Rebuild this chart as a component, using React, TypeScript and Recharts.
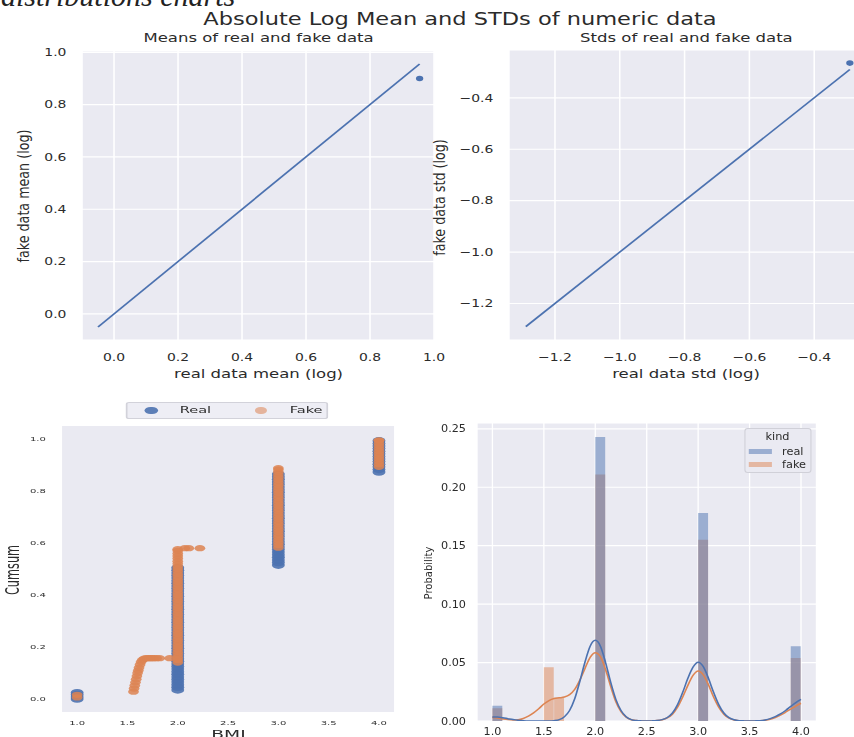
import React from 'react'
import {
  Bar,
  CartesianGrid,
  ComposedChart,
  Legend,
  Line,
  Scatter,
  ScatterChart,
  XAxis,
  YAxis,
} from 'recharts'

const BG = '#eaeaf2'
const BLUE = '#4c72b0'
const ORANGE = '#dd8452'
const INK = '#2b2b2b'
const SANS = '"DejaVu Sans", Verdana, sans-serif'

// each pasted figure in the screenshot is stretched horizontally by its own factor
const TOP_SX = 1.3
const CUM_SX = 1.7
const HIST_SX = 1.1

// ---- top figure: absolute log mean / std ----
const meanTicks = [0, 0.2, 0.4, 0.6, 0.8, 1.0]
const meanLineEnds = [-0.05, 0.955]
const meanPointsX = [0.955]
const meanPointsY = [0.9]

const stdTicks = [-1.2, -1.0, -0.8, -0.6, -0.4]
const stdLineEnds = [-1.29, -0.29]
const stdPointsX = [-0.29]
const stdPointsY = [-0.265]

// ---- bottom left: cumsum per BMI ----
const bmiTicks = [1.0, 1.5, 2.0, 2.5, 3.0, 3.5, 4.0]
const cumsumTicks = [0, 0.2, 0.4, 0.6, 0.8, 1.0]
const cumOrder = ['Real', 'Fake']

const realAt1 = [0.0, 0.008, 0.016, 0.024]
const realAt2 = [
  0.035, 0.045, 0.055, 0.065, 0.075, 0.085, 0.095, 0.105, 0.115, 0.125, 0.135, 0.145, 0.155,
  0.165, 0.175, 0.185, 0.195, 0.205, 0.215, 0.225, 0.235, 0.245, 0.255, 0.265, 0.275, 0.285,
  0.295, 0.305, 0.315, 0.325, 0.335, 0.345, 0.355, 0.365, 0.375, 0.385, 0.395, 0.405, 0.415,
  0.425, 0.435, 0.445, 0.455, 0.465, 0.475, 0.485, 0.495, 0.505,
]
const realAt3 = [
  0.515, 0.525, 0.535, 0.545, 0.555, 0.565, 0.575, 0.585, 0.595, 0.605, 0.615, 0.625, 0.635,
  0.645, 0.655, 0.665, 0.675, 0.685, 0.695, 0.705, 0.715, 0.725, 0.735, 0.745, 0.755, 0.765,
  0.775, 0.785, 0.795, 0.805, 0.815, 0.825, 0.835, 0.845, 0.855, 0.865,
]
const realAt4 = [
  0.873, 0.883, 0.893, 0.903, 0.913, 0.923, 0.933, 0.943, 0.953, 0.963, 0.973, 0.983, 0.993,
]

const fakeAt1 = [0.006, 0.016]
const fakeCurveX = [
  1.56, 1.566, 1.573, 1.58, 1.587, 1.594, 1.601, 1.608, 1.615, 1.625, 1.635, 1.648, 1.665,
  1.685, 1.705, 1.725, 1.745, 1.765, 1.79, 1.82, 1.92,
]
const fakeCurveY = [
  0.028, 0.04, 0.052, 0.064, 0.076, 0.088, 0.1, 0.11, 0.12, 0.132, 0.142, 0.15, 0.155, 0.157,
  0.157, 0.157, 0.157, 0.157, 0.157, 0.157, 0.157,
]
const fakeAt2 = [
  0.14, 0.15, 0.16, 0.17, 0.18, 0.19, 0.2, 0.21, 0.22, 0.23, 0.24, 0.25, 0.26, 0.27, 0.28, 0.29,
  0.3, 0.31, 0.32, 0.33, 0.34, 0.35, 0.36, 0.37, 0.38, 0.39, 0.4, 0.41, 0.42, 0.43, 0.44, 0.45,
  0.46, 0.47, 0.48, 0.49, 0.5, 0.51, 0.52, 0.53, 0.54, 0.55, 0.56, 0.57, 0.576,
]
const fakeSideX = [2.07, 2.11, 2.22]
const fakeSideY = [0.58, 0.58, 0.58]
const fakeAt3 = [
  0.582, 0.592, 0.602, 0.612, 0.622, 0.632, 0.642, 0.652, 0.662, 0.672, 0.682, 0.692, 0.702,
  0.712, 0.722, 0.732, 0.742, 0.752, 0.762, 0.772, 0.782, 0.792, 0.802, 0.812, 0.822, 0.832,
  0.842, 0.852, 0.862, 0.872, 0.882, 0.888,
]
const fakeAt4 = [0.893, 0.903, 0.913, 0.923, 0.933, 0.943, 0.953, 0.963, 0.973, 0.983, 0.993, 0.995]

// ---- bottom right: histogram + kde of BMI ----
const probTicks = [0, 0.05, 0.1, 0.15, 0.2, 0.25]
const binLow = [
  1.0, 1.1, 1.2, 1.3, 1.4, 1.5, 1.6, 1.7, 1.8, 1.9, 2.0, 2.1, 2.2, 2.3, 2.4, 2.5, 2.6, 2.7, 2.8,
  2.9, 3.0, 3.1, 3.2, 3.3, 3.4, 3.5, 3.6, 3.7, 3.8, 3.9,
]
const realProb = [
  0.013, 0, 0, 0, 0, 0, 0, 0, 0, 0, 0.243, 0, 0, 0, 0, 0, 0, 0, 0, 0, 0.178, 0, 0, 0, 0, 0, 0,
  0, 0, 0.064,
]
const fakeProb = [
  0.011, 0, 0, 0, 0, 0.046, 0.02, 0, 0, 0, 0.211, 0, 0, 0, 0, 0, 0, 0, 0, 0, 0.155, 0, 0, 0, 0,
  0, 0, 0, 0, 0.054,
]
const kdeX = [
  1.0, 1.05, 1.1, 1.15, 1.2, 1.25, 1.3, 1.35, 1.4, 1.45, 1.5, 1.55, 1.6, 1.65, 1.7, 1.75, 1.8,
  1.85, 1.9, 1.95, 2.0, 2.05, 2.1, 2.15, 2.2, 2.25, 2.3, 2.35, 2.4, 2.45, 2.5, 2.55, 2.6, 2.65,
  2.7, 2.75, 2.8, 2.85, 2.9, 2.95, 3.0, 3.05, 3.1, 3.15, 3.2, 3.25, 3.3, 3.35, 3.4, 3.45, 3.5,
  3.55, 3.6, 3.65, 3.7, 3.75, 3.8, 3.85, 3.9, 3.95, 4.0,
]
const realKde = [
  0.0035, 0.0035, 0.0028, 0.002, 0.0012, 0.0006, 0.0002, 0, 0, 0, 0, 0, 0.0003, 0.0012, 0.0037,
  0.009, 0.019, 0.034, 0.0505, 0.064, 0.069, 0.064, 0.05, 0.033, 0.0185, 0.009, 0.0037, 0.0012,
  0.0004, 0.0001, 0, 0.0001, 0.0004, 0.0012, 0.003, 0.0068, 0.014, 0.0245, 0.0365, 0.046, 0.0503,
  0.0465, 0.0365, 0.0245, 0.014, 0.0068, 0.0028, 0.001, 0.0003, 0.0001, 0, 0.0001, 0.0003,
  0.0009, 0.002, 0.0037, 0.006, 0.009, 0.0125, 0.0158, 0.0185,
]
const fakeKde = [
  0.003, 0.0025, 0.0018, 0.0012, 0.0009, 0.0011, 0.0022, 0.0042, 0.007, 0.0105, 0.0145, 0.0175,
  0.0192, 0.0198, 0.0205, 0.0225, 0.027, 0.035, 0.045, 0.0545, 0.0585, 0.055, 0.044, 0.0295,
  0.0165, 0.008, 0.0033, 0.0011, 0.0004, 0.0001, 0, 0.0001, 0.0004, 0.0011, 0.0026, 0.0058,
  0.0118, 0.0205, 0.0305, 0.039, 0.0428, 0.0395, 0.031, 0.0205, 0.0118, 0.0058, 0.0024, 0.0008,
  0.0002, 0, 0, 0, 0.0002, 0.0006, 0.0015, 0.003, 0.005, 0.0075, 0.0102, 0.0128, 0.0152,
]
const kindOrder = ['real', 'fake']

const fmt1 = (v: number) => v.toFixed(1).replace('-', '\u2212')
const fmt2 = (v: number) => v.toFixed(2)

type Pt = { x: number; y: number }
const column = (x: number, ys: number[]): Pt[] => ys.map((y) => ({ x, y }))
const pairs = (xs: number[], ys: number[]): Pt[] => xs.map((x, i) => ({ x, y: ys[i] }))

const meanLine = pairs(meanLineEnds, meanLineEnds)
const meanPoints = pairs(meanPointsX, meanPointsY)
const stdLine = pairs(stdLineEnds, stdLineEnds)
const stdPoints = pairs(stdPointsX, stdPointsY)

const realCum = [
  ...column(1, realAt1),
  ...column(2, realAt2),
  ...column(3, realAt3),
  ...column(4, realAt4),
]
const fakeCum = [
  ...column(1, fakeAt1),
  ...pairs(fakeCurveX, fakeCurveY),
  ...column(2, fakeAt2),
  ...pairs(fakeSideX, fakeSideY),
  ...column(3, fakeAt3),
  ...column(4, fakeAt4),
]

const binRows = binLow.map((bin, i) => ({ bin, real: realProb[i], fake: fakeProb[i] }))
const kdeRows = kdeX.map((x, i) => ({ x, real: realKde[i], fake: fakeKde[i] }))

const cumDot: Record<string, { r: number; opacity: number }> = {
  Real: { r: 3.8, opacity: 0.9 },
  Fake: { r: 3.15, opacity: 0.85 },
}

type LogPanelProps = {
  left: number
  width: number
  yAxisWidth: number
  marginTop: number
  marginRight: number
  xDomain: [number, number]
  yDomain: [number, number]
  xTicks: number[]
  yTicks: number[]
  line: Pt[]
  points: Pt[]
}

function LogPanel(p: LogPanelProps) {
  const tick = { fontSize: 10.7, fill: INK, fontFamily: SANS }
  return (
    <div style={{ position: 'absolute', left: p.left, top: 40 }}>
      <ComposedChart
        width={p.width}
        height={350}
        margin={{ top: p.marginTop, right: p.marginRight, bottom: 0, left: 0 }}
      >
        <CartesianGrid fill={BG} stroke="#ffffff" strokeWidth={1.2} />
        <XAxis
          type="number"
          dataKey="x"
          domain={p.xDomain}
          ticks={p.xTicks}
          allowDataOverflow
          interval={0}
          tickFormatter={fmt1}
          axisLine={false}
          tickLine={false}
          tickSize={0}
          tickMargin={13}
          height={50}
          tick={tick}
        />
        <YAxis
          type="number"
          dataKey="y"
          domain={p.yDomain}
          ticks={p.yTicks}
          allowDataOverflow
          interval={0}
          tickFormatter={fmt1}
          axisLine={false}
          tickLine={false}
          tickSize={0}
          tickMargin={12}
          width={p.yAxisWidth}
          tick={tick}
        />
        <Line
          data={p.line}
          dataKey="y"
          type="linear"
          stroke={BLUE}
          strokeWidth={1.5}
          dot={false}
          isAnimationActive={false}
        />
        <Scatter
          data={p.points}
          fill={BLUE}
          shape={(s: any) => <circle cx={s.cx} cy={s.cy} r={2.8} fill={BLUE} />}
          isAnimationActive={false}
        />
      </ComposedChart>
    </div>
  )
}

function TopFigure() {
  return (
    <div
      style={{
        position: 'absolute',
        left: 0,
        top: 0,
        width: 657,
        height: 390,
        transform: `scaleX(${TOP_SX})`,
        transformOrigin: '0 0',
      }}
    >
      <LogPanel
        left={0}
        width={352}
        yAxisWidth={63.1}
        marginTop={11}
        marginRight={17.4}
        xDomain={[-0.1, 1.003]}
        yDomain={[-0.1, 1.005]}
        xTicks={meanTicks}
        yTicks={meanTicks}
        line={meanLine}
        points={meanPoints}
      />
      <LogPanel
        left={335}
        width={331.2}
        yAxisWidth={56.5}
        marginTop={10}
        marginRight={0}
        xDomain={[-1.342, -0.24]}
        yDomain={[-1.342, -0.214]}
        xTicks={stdTicks}
        yTicks={stdTicks}
        line={stdLine}
        points={stdPoints}
      />
      <svg
        width={680}
        height={390}
        style={{ position: 'absolute', left: 0, top: 0, overflow: 'visible', pointerEvents: 'none' }}
        fontFamily={SANS}
        fill={INK}
      >
        <text x={353.8} y={25} fontSize={17.3} textAnchor="middle">
          Absolute Log Mean and STDs of numeric data
        </text>
        <text x={198.9} y={42} fontSize={12.7} textAnchor="middle">
          Means of real and fake data
        </text>
        <text x={528} y={42} fontSize={12.7} textAnchor="middle">
          Stds of real and fake data
        </text>
        <text x={198.9} y={378} fontSize={12.7} textAnchor="middle">
          real data mean (log)
        </text>
        <text x={527.7} y={378} fontSize={12.7} textAnchor="middle">
          real data std (log)
        </text>
        <text transform="translate(22.4,196) rotate(-90)" fontSize={12.7} textAnchor="middle">
          fake data mean (log)
        </text>
        <text transform="translate(342.4,197.5) rotate(-90)" fontSize={12.7} textAnchor="middle">
          fake data std (log)
        </text>
      </svg>
    </div>
  )
}

const cumLegend = (props: any) => {
  const all = (props.payload || []) as any[]
  const items = cumOrder.map((k) => all.find((e) => e.value === k)).filter(Boolean) as any[]
  const dotX = [14.1, 78.3]
  const textX = [30.6, 95.3]
  return (
    <div
      style={{
        position: 'relative',
        width: 119.4,
        height: 17,
        boxSizing: 'border-box',
        border: '1px solid #d2d2da',
        borderRadius: 2,
        background: '#eeeef5',
        fontFamily: SANS,
        fontSize: 8.6,
        color: INK,
      }}
    >
      {items.map((e, i) => {
        const d = cumDot[e.value]
        return (
          <React.Fragment key={e.value}>
            <span
              style={{
                position: 'absolute',
                left: dotX[i] - d.r,
                top: 7.5 - d.r,
                width: d.r * 2,
                height: d.r * 2,
                borderRadius: '50%',
                background: e.color,
                opacity: i === 0 ? d.opacity : 0.55,
              }}
            />
            <span style={{ position: 'absolute', left: textX[i], top: 0, lineHeight: '15px' }}>
              {e.value}
            </span>
          </React.Fragment>
        )
      })}
    </div>
  )
}

function CumsumFigure() {
  const tick = { fontSize: 5.9, fill: INK, fontFamily: SANS }
  return (
    <div
      style={{
        position: 'absolute',
        left: 0,
        top: 390,
        width: 247,
        height: 347,
        transform: `scaleX(${CUM_SX})`,
        transformOrigin: '0 0',
      }}
    >
      <ScatterChart width={240} height={347} margin={{ top: 36, right: 8.2, bottom: 0, left: 0 }}>
        <CartesianGrid fill={BG} horizontal={false} vertical={false} />
        <XAxis
          type="number"
          dataKey="x"
          domain={[0.85, 4.15]}
          ticks={bmiTicks}
          allowDataOverflow
          interval={0}
          tickFormatter={fmt1}
          axisLine={false}
          tickLine={false}
          tickSize={0}
          tickMargin={8.7}
          height={25}
          tick={tick}
        />
        <YAxis
          type="number"
          dataKey="y"
          domain={[-0.05, 1.05]}
          ticks={cumsumTicks}
          allowDataOverflow
          interval={0}
          tickFormatter={fmt1}
          axisLine={false}
          tickLine={false}
          tickSize={0}
          tickMargin={9.5}
          width={36.5}
          tick={tick}
        />
        <Legend
          layout="horizontal"
          verticalAlign="middle"
          align="center"
          content={cumLegend}
          wrapperStyle={{ left: 74.1, top: 12, width: 119.4, height: 17 }}
        />
        <Scatter
          name="Real"
          data={realCum}
          fill={BLUE}
          shape={(s: any) => (
            <circle cx={s.cx} cy={s.cy} r={cumDot.Real.r} fill={BLUE} fillOpacity={cumDot.Real.opacity} />
          )}
          isAnimationActive={false}
        />
        <Scatter
          name="Fake"
          data={fakeCum}
          fill={ORANGE}
          shape={(s: any) => (
            <circle cx={s.cx} cy={s.cy} r={cumDot.Fake.r} fill={ORANGE} fillOpacity={cumDot.Fake.opacity} />
          )}
          isAnimationActive={false}
        />
      </ScatterChart>
      <svg
        width={247}
        height={360}
        style={{ position: 'absolute', left: 0, top: 0, overflow: 'visible', pointerEvents: 'none' }}
        fontFamily={SANS}
        fill={INK}
      >
        <text transform="translate(11.4,180) rotate(-90)" fontSize={11.3} textAnchor="middle">
          Cumsum
        </text>
        <text x={134.4} y={348} fontSize={11} textAnchor="middle">
          BMI
        </text>
      </svg>
    </div>
  )
}

const kindLegend = (props: any) => {
  const all = (props.payload || []) as any[]
  const items = kindOrder
    .map((k) => all.find((e) => e.value === k && e.type !== 'none'))
    .filter(Boolean) as any[]
  return (
    <div
      style={{
        position: 'relative',
        width: 61,
        height: 45,
        boxSizing: 'border-box',
        border: '1px solid #d0d0d8',
        borderRadius: 3,
        background: BG,
        fontFamily: SANS,
        color: INK,
        fontSize: 10.3,
      }}
    >
      <div
        style={{ position: 'absolute', left: 0, top: 0, width: '100%', textAlign: 'center', lineHeight: '15px' }}
      >
        kind
      </div>
      {items.map((e, i) => (
        <React.Fragment key={e.value}>
          <span
            style={{
              position: 'absolute',
              left: 3.6,
              top: 20 + 13 * i,
              width: 21,
              height: 5,
              background: e.color,
              opacity: 0.5,
            }}
          />
          <span style={{ position: 'absolute', left: 33.6, top: 15 + 13 * i, lineHeight: '15px' }}>
            {e.value}
          </span>
        </React.Fragment>
      ))}
    </div>
  )
}

function HistFigure() {
  const tick = { fontSize: 10.2, fill: INK, fontFamily: SANS }
  return (
    <div
      style={{
        position: 'absolute',
        left: 410,
        top: 410,
        width: 403.6,
        height: 327,
        transform: `scaleX(${HIST_SX})`,
        transformOrigin: '0 0',
      }}
    >
      <ComposedChart
        width={380}
        height={327}
        data={binRows}
        margin={{ top: 13, right: 10.5, bottom: 0, left: 0 }}
        barCategoryGap={0}
        barGap={0}
      >
        <CartesianGrid fill={BG} stroke="#ffffff" strokeWidth={1.2} xAxisId="num" />
        <XAxis
          xAxisId="num"
          type="number"
          dataKey="x"
          domain={[0.85, 4.15]}
          ticks={bmiTicks}
          allowDataOverflow
          interval={0}
          tickFormatter={fmt1}
          axisLine={false}
          tickLine={false}
          tickSize={0}
          tickMargin={6.5}
          height={16}
          tick={tick}
        />
        <XAxis
          xAxisId="fakeBins"
          type="category"
          dataKey="bin"
          hide
          height={0}
          padding={{ left: 14, right: 14 }}
        />
        <XAxis
          xAxisId="realBins"
          type="category"
          dataKey="bin"
          hide
          height={0}
          padding={{ left: 14, right: 14 }}
        />
        <YAxis
          type="number"
          domain={[0, 0.255]}
          ticks={probTicks}
          allowDataOverflow
          interval={0}
          tickFormatter={fmt2}
          axisLine={false}
          tickLine={false}
          tickSize={0}
          tickMargin={10}
          width={60.9}
          tick={tick}
        />
        <Legend
          layout="horizontal"
          verticalAlign="middle"
          align="center"
          content={kindLegend}
          wrapperStyle={{ left: 303.6, top: 18, width: 61, height: 45 }}
        />
        <Bar
          xAxisId="fakeBins"
          dataKey="fake"
          name="fake"
          fill={ORANGE}
          fillOpacity={0.5}
          isAnimationActive={false}
        />
        <Bar
          xAxisId="realBins"
          dataKey="real"
          name="real"
          fill={BLUE}
          fillOpacity={0.5}
          isAnimationActive={false}
        />
        <Line
          xAxisId="num"
          data={kdeRows}
          dataKey="fake"
          name="fake kde"
          type="monotone"
          stroke={ORANGE}
          strokeWidth={1.5}
          dot={false}
          legendType="none"
          isAnimationActive={false}
        />
        <Line
          xAxisId="num"
          data={kdeRows}
          dataKey="real"
          name="real kde"
          type="monotone"
          stroke={BLUE}
          strokeWidth={1.5}
          dot={false}
          legendType="none"
          isAnimationActive={false}
        />
      </ComposedChart>
      <svg
        width={404}
        height={327}
        style={{ position: 'absolute', left: 0, top: 0, overflow: 'visible', pointerEvents: 'none' }}
        fontFamily={SANS}
        fill={INK}
      >
        <text transform="translate(20.3,163) rotate(-90)" fontSize={10} textAnchor="middle">
          Probability
        </text>
      </svg>
    </div>
  )
}

export default function App() {
  return (
    <div
      style={{
        position: 'absolute',
        left: 0,
        top: 0,
        width: 854,
        height: 737,
        overflow: 'hidden',
        background: '#ffffff',
        fontFamily: SANS,
      }}
    >
      <svg width={300} height={20} style={{ position: 'absolute', left: 0, top: 0 }}>
        <text
          x={1}
          y={6}
          fontFamily='"Liberation Serif", "Times New Roman", serif'
          fontStyle="italic"
          fontSize={30}
          fill="#222222"
        >
          distributions charts
        </text>
      </svg>
      <TopFigure />
      <CumsumFigure />
      <HistFigure />
    </div>
  )
}
